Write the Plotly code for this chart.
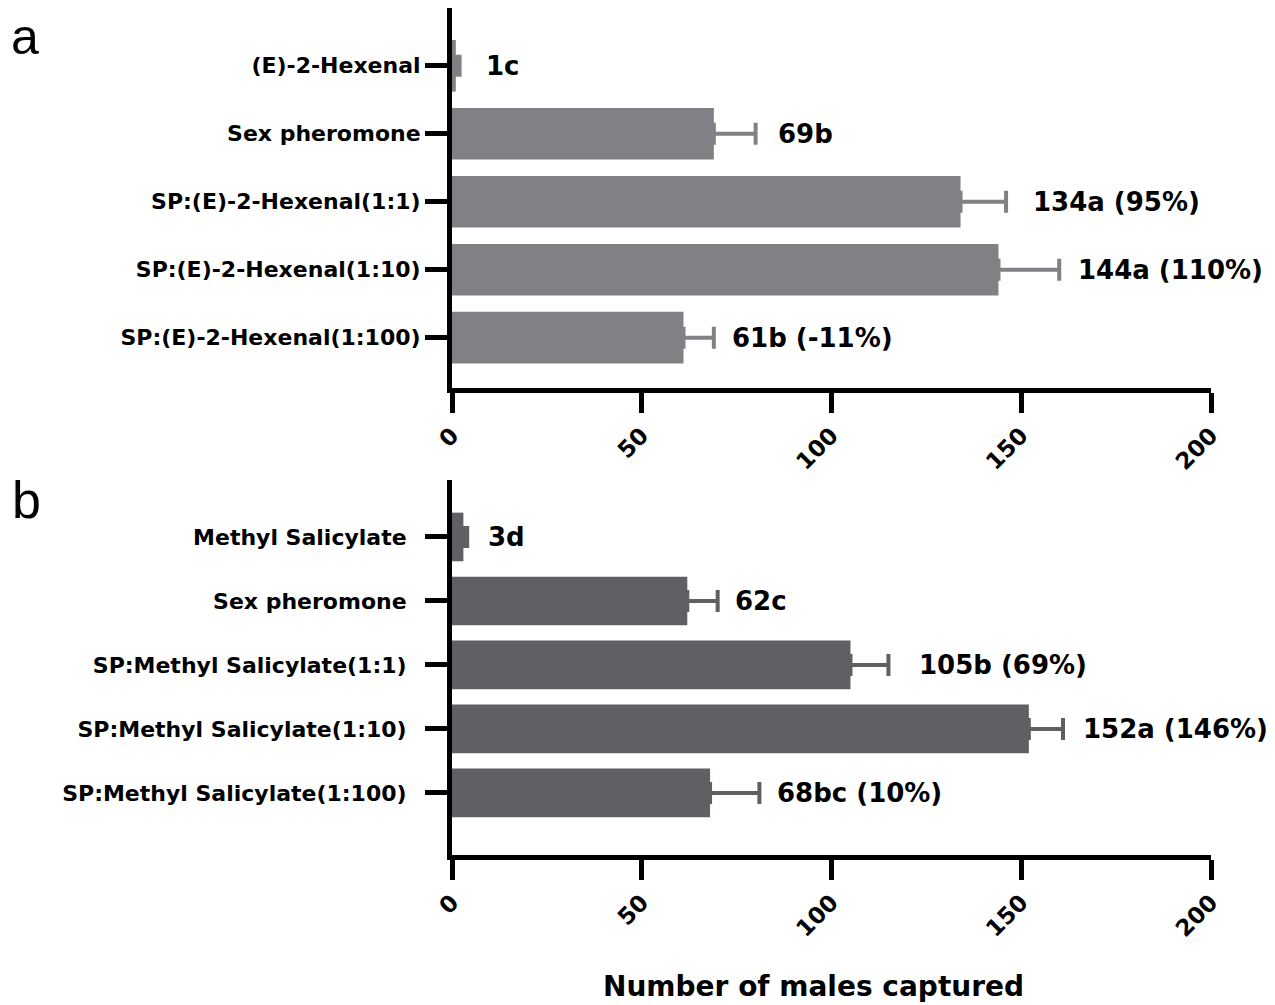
import plotly.graph_objects as go

# ---- data ----
cats_a = ["(E)-2-Hexenal", "Sex pheromone", "SP:(E)-2-Hexenal(1:1)",
          "SP:(E)-2-Hexenal(1:10)", "SP:(E)-2-Hexenal(1:100)"]
vals_a = [1, 69, 134, 144, 61]
errs_a = [1, 11, 12, 16, 8]
labels_a = ["1c", "69b", "134a (95%)", "144a (110%)", "61b (-11%)"]

cats_b = ["Methyl Salicylate", "Sex pheromone", "SP:Methyl Salicylate(1:1)",
          "SP:Methyl Salicylate(1:10)", "SP:Methyl Salicylate(1:100)"]
vals_b = [3, 62, 105, 152, 68]
errs_b = [1, 8, 10, 9, 13]
labels_b = ["3d", "62c", "105b (69%)", "152a (146%)", "68bc (10%)"]

x_ticks = [0, 50, 100, 150, 200]
x_title = "Number of males captured"

# ---- style ----
FONT = "DejaVu Sans"
col_a = "#808184"
col_b = "#5f6063"
shift_a = [24, 20, 25, 17, 16]
shift_b = [19, 15, 29, 18, 16]

# page body has an 8px margin; size the figure to fit the window
OFF = 8
W, H = 1275 - OFF, 1005 - OFF


def px(x):
    return (x - OFF) / W


def py(y):
    return 1 - (y - OFF) / H


fig = go.Figure()


def add_panel(cats, vals, errs, labels, shifts, color, xa, ya):
    pos = list(range(len(cats)))
    fig.add_trace(go.Bar(
        x=vals, y=pos, orientation="h", width=0.76,
        marker=dict(color=color, line=dict(width=0)),
        error_x=dict(type="data", array=errs, arrayminus=[0] * len(errs),
                     symmetric=False, color=color, thickness=4, width=11),
        xaxis=xa, yaxis=ya, showlegend=False, hoverinfo="skip"))
    for p, v, e, t, s in zip(pos, vals, errs, labels, shifts):
        fig.add_annotation(x=v + e, y=p, xref=xa, yref=ya, text=t,
                           showarrow=False, xanchor="left", xshift=s,
                           font=dict(family=FONT, size=26, color="black",
                                     weight="bold"))


add_panel(cats_a, vals_a, errs_a, labels_a, shift_a, col_a, "x", "y")
add_panel(cats_b, vals_b, errs_b, labels_b, shift_b, col_b, "x2", "y2")

xdom = [px(452), px(1211)]

axis_common = dict(showline=True, linewidth=5, linecolor="black",
                   ticks="outside", tickwidth=5, tickcolor="black",
                   showgrid=False, zeroline=False, automargin=False)

xaxis_style = dict(axis_common, range=[0, 200], tickvals=x_ticks, ticklen=20,
                   tickangle=-45,
                   tickfont=dict(family=FONT, size=23, color="black", weight="bold"))

ytickfont = dict(family=FONT, size=22, color="black", weight="bold")

fig.update_layout(
    width=W, height=H,
    margin=dict(l=0, r=0, t=0, b=0),
    paper_bgcolor="white", plot_bgcolor="white",
    xaxis=dict(xaxis_style, domain=xdom, anchor="y"),
    xaxis2=dict(xaxis_style, domain=xdom, anchor="y2"),
    yaxis=dict(axis_common, domain=[py(388), py(8)], anchor="x",
               range=[4.74, -0.85], tickvals=list(range(5)), ticktext=cats_a,
               ticklen=22, tickfont=ytickfont),
    yaxis2=dict(axis_common, domain=[py(855), py(480)], anchor="x2",
                range=[4.97, -0.89], tickvals=list(range(5)), ticktext=cats_b,
                ticklen=22, ticklabelstandoff=14, tickfont=ytickfont),
)

fig.add_annotation(x=px(10), y=py(8), xref="paper", yref="paper", text="a",
                   showarrow=False, xanchor="left", yanchor="top", borderpad=0,
                   font=dict(family="Liberation Sans", size=50, color="black"))
fig.add_annotation(x=px(10), y=py(500), xref="paper", yref="paper", text="b",
                   showarrow=False, xanchor="left", yanchor="middle",
                   font=dict(family="Liberation Sans", size=52, color="black"))
fig.add_annotation(x=px(813), y=py(986), xref="paper", yref="paper",
                   text=x_title, showarrow=False, xanchor="center", yanchor="middle",
                   font=dict(family=FONT, size=28, color="black", weight="bold"))

fig.write_html("out.html")
